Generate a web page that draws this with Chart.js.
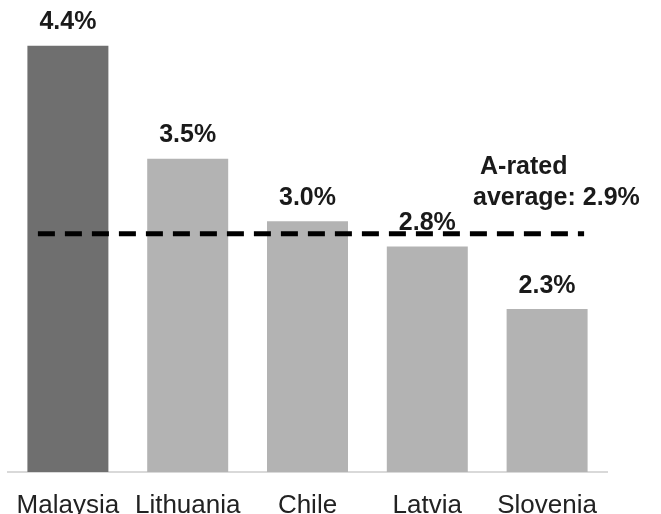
<!DOCTYPE html>
<html>
<head>
<meta charset="utf-8">
<script src="https://cdn.jsdelivr.net/npm/chart.js@4.4.1/dist/chart.umd.min.js"></script>
<style>
  html, body { margin: 0; padding: 0; background: #ffffff; }
  #wrap { width: 661px; height: 514px; position: relative; }
</style>
</head>
<body>
<div id="wrap"><canvas id="c"></canvas></div>
<script>
// Ten-year government bond yields, selected A-rated sovereigns (%)
const countries = ['Malaysia', 'Lithuania', 'Chile', 'Latvia', 'Slovenia'];
const yieldPct = [4.4, 3.5, 3.0, 2.8, 2.3];
const barColors = ['#6f6f6f', '#b3b3b3', '#b3b3b3', '#b3b3b3', '#b3b3b3'];
const averageValue = 2.9;
const averageTitle = 'A-rated';

const FONT = '"Liberation Sans", Arial, Helvetica, sans-serif';

// Percent labels above each bar
const valueLabels = {
  id: 'valueLabels',
  afterDatasetsDraw(chart) {
    const ctx = chart.ctx;
    const meta = chart.getDatasetMeta(0);
    ctx.save();
    ctx.font = 'bold 25px ' + FONT;
    ctx.fillStyle = '#1a1a1a';
    ctx.textAlign = 'center';
    ctx.textBaseline = 'alphabetic';
    meta.data.forEach((bar, i) => {
      ctx.fillText(yieldPct[i].toFixed(1) + '%', bar.x, bar.y - 16.5);
    });
    ctx.restore();
  }
};

// Country names under the axis, placed at each category's pixel position
const categoryLabels = {
  id: 'categoryLabels',
  afterDraw(chart) {
    const ctx = chart.ctx;
    const xs = chart.scales.x;
    ctx.save();
    ctx.font = '26px ' + FONT;
    ctx.fillStyle = '#222222';
    ctx.textAlign = 'center';
    ctx.textBaseline = 'alphabetic';
    chart.data.labels.forEach((name, i) => {
      ctx.fillText(name, xs.getPixelForValue(i), chart.chartArea.bottom + 41);
    });
    ctx.restore();
  }
};

// Dashed reference line for the rating-group average, with its caption
const averageLine = {
  id: 'averageLine',
  afterDatasetsDraw(chart) {
    const ctx = chart.ctx;
    const xs = chart.scales.x, ys = chart.scales.y;
    const y = ys.getPixelForValue(averageValue);
    const x0 = xs.getPixelForValue(0) - 30;
    const x1 = xs.getPixelForValue(countries.length - 1) + 37;
    ctx.save();
    ctx.strokeStyle = '#000000';
    ctx.lineWidth = 5;
    ctx.setLineDash([17, 10]);
    ctx.lineCap = 'butt';
    ctx.beginPath();
    ctx.moveTo(x0, y);
    ctx.lineTo(x1, y);
    ctx.stroke();
    ctx.setLineDash([]);

    ctx.font = 'bold 25px ' + FONT;
    ctx.fillStyle = '#1a1a1a';
    ctx.textAlign = 'left';
    ctx.textBaseline = 'alphabetic';
    const right = chart.chartArea.right;
    ctx.fillText(averageTitle, right - 127, y - 60);
    ctx.fillText('average: ' + averageValue.toFixed(1) + '%', right - 134, y - 28.5);
    ctx.restore();
  }
};

new Chart(document.getElementById('c'), {
  type: 'bar',
  data: {
    labels: countries,
    datasets: [{
      data: yieldPct,
      backgroundColor: barColors,
      borderWidth: 0,
      categoryPercentage: 1.0,
      barPercentage: 0.676
    }]
  },
  options: {
    responsive: true,
    maintainAspectRatio: false,
    animation: false,
    layout: { padding: { left: 8, right: 54, top: 2, bottom: 42 } },
    plugins: {
      legend: { display: false },
      tooltip: { enabled: false }
    },
    scales: {
      x: {
        grid: { display: false, drawTicks: false },
        border: { display: true, color: '#d9d9d9', width: 2 },
        ticks: { display: false }
      },
      y: {
        display: false,
        min: 1,
        max: 4.75
      }
    }
  },
  plugins: [valueLabels, averageLine, categoryLabels]
});
</script>
</body>
</html>
